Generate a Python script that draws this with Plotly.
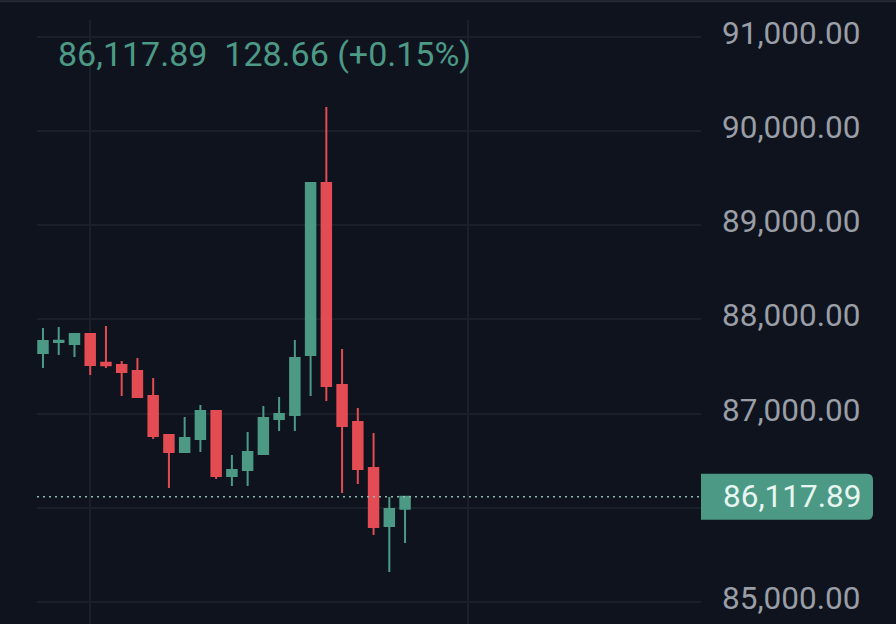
import plotly.graph_objects as go

# candles, one entry per bar
idx = list(range(24))
opens = [87644, 87760, 87740, 87846, 87540, 87517, 87453, 87187, 86773, 86593, 86731, 87028,
         86338, 86402, 86571, 86943, 86986, 87623, 89449, 87304, 86911, 86423, 85807, 85989.23]
highs = [87910, 87920, 87856, 87850, 87931, 87559, 87591, 87379, 86780, 86964, 87092, 87030,
         86561, 86805, 87081, 87177, 87782, 89449, 90257, 87687, 87060, 86794, 86115, 86118]
lows = [87485, 87623, 87602, 87410, 87485, 87187, 87166, 86731, 86210, 86582, 86593, 86306,
        86232, 86232, 86565, 86816, 86816, 87187, 87134, 86157, 86253, 85711, 85318, 85626]
closes = [87772, 87775, 87846, 87517, 87515, 87442, 87177, 86763, 86593, 86741, 87028, 86338,
          86402, 86593, 86954, 86996, 87591, 89449, 87294, 86869, 86412, 85796, 85987, 86117.89]

y_ticks = [85000, 86000, 87000, 88000, 89000, 90000, 91000]
# the 86,000 label sits behind the price tag
y_labels = ['85,000.00', '', '87,000.00', '88,000.00', '89,000.00', '90,000.00', '91,000.00']
x_ticks = [3, 27]
last_price = closes[-1]
header = '86,117.89  128.66 (+0.15%)'

bg = '#0f131e'
grid = '#1a1f2a'
green = '#4c9a86'
red = '#e24c52'

fig = go.Figure()
fig.add_trace(go.Candlestick(
    x=idx, open=opens, high=highs, low=lows, close=closes,
    increasing=dict(line=dict(color=green, width=2), fillcolor=green),
    decreasing=dict(line=dict(color=red, width=2), fillcolor=red),
    whiskerwidth=0,
    hoverinfo='skip',
))

# dotted last price line
fig.add_shape(type='line', xref='paper', x0=0, x1=1, yref='y', y0=last_price, y1=last_price,
              line=dict(color='#8fbdb0', width=1.5, dash='2px,4px'))
# price tag with rounded right corners
fig.add_shape(type='path', xref='paper', yref='y', xsizemode='pixel', ysizemode='pixel',
              xanchor=1, yanchor=last_price,
              path='M 0,-23 L 166,-23 Q 172,-23 172,-17 L 172,17 Q 172,23 166,23 L 0,23 Z',
              fillcolor=green, line=dict(width=0))
# thin line along the top edge
fig.add_shape(type='line', xref='paper', yref='paper', x0=-0.06, x1=1.3, y0=1.031, y1=1.031,
              line=dict(color='#262b36', width=2))

fig.add_annotation(xref='paper', yref='y', x=1, y=last_price, xanchor='left', xshift=20,
                   text=f'{last_price:,.2f}', showarrow=False,
                   font=dict(family='Roboto', size=31.5, color='#e8f6f1'))
fig.add_annotation(xref='paper', yref='paper', x=0, y=1, xshift=19, yshift=-12, xanchor='left',
                   text=header.replace('  ', '&nbsp;&nbsp;'), showarrow=False,
                   font=dict(family='Roboto', size=34, color=green))

fig.update_xaxes(range=[-0.38, 41.8], tickvals=x_ticks, showticklabels=False, ticks='',
                 showgrid=True, gridcolor=grid, gridwidth=1.5, zeroline=False, showline=False,
                 rangeslider_visible=False)
fig.update_yaxes(range=[84766, 91180], tickvals=y_ticks, ticktext=y_labels, side='right',
                 showgrid=True, gridcolor=grid, gridwidth=2, zeroline=False, showline=False,
                 ticks='', ticklabelstandoff=20, ticklabelshift=-4,
                 tickfont=dict(family='Roboto', size=31.5, color='#9a9ea6'))
fig.update_layout(
    width=896, height=624,
    margin=dict(l=37, r=195, t=20, b=0),
    paper_bgcolor=bg, plot_bgcolor=bg,
    showlegend=False,
    boxgap=0.14,
    template=None,
)
# page margin would push the chart 8px in
fig.write_html("out.html", config={'displayModeBar': False},
               post_script="document.body.style.margin='0';document.body.style.background='#0f131e';")
